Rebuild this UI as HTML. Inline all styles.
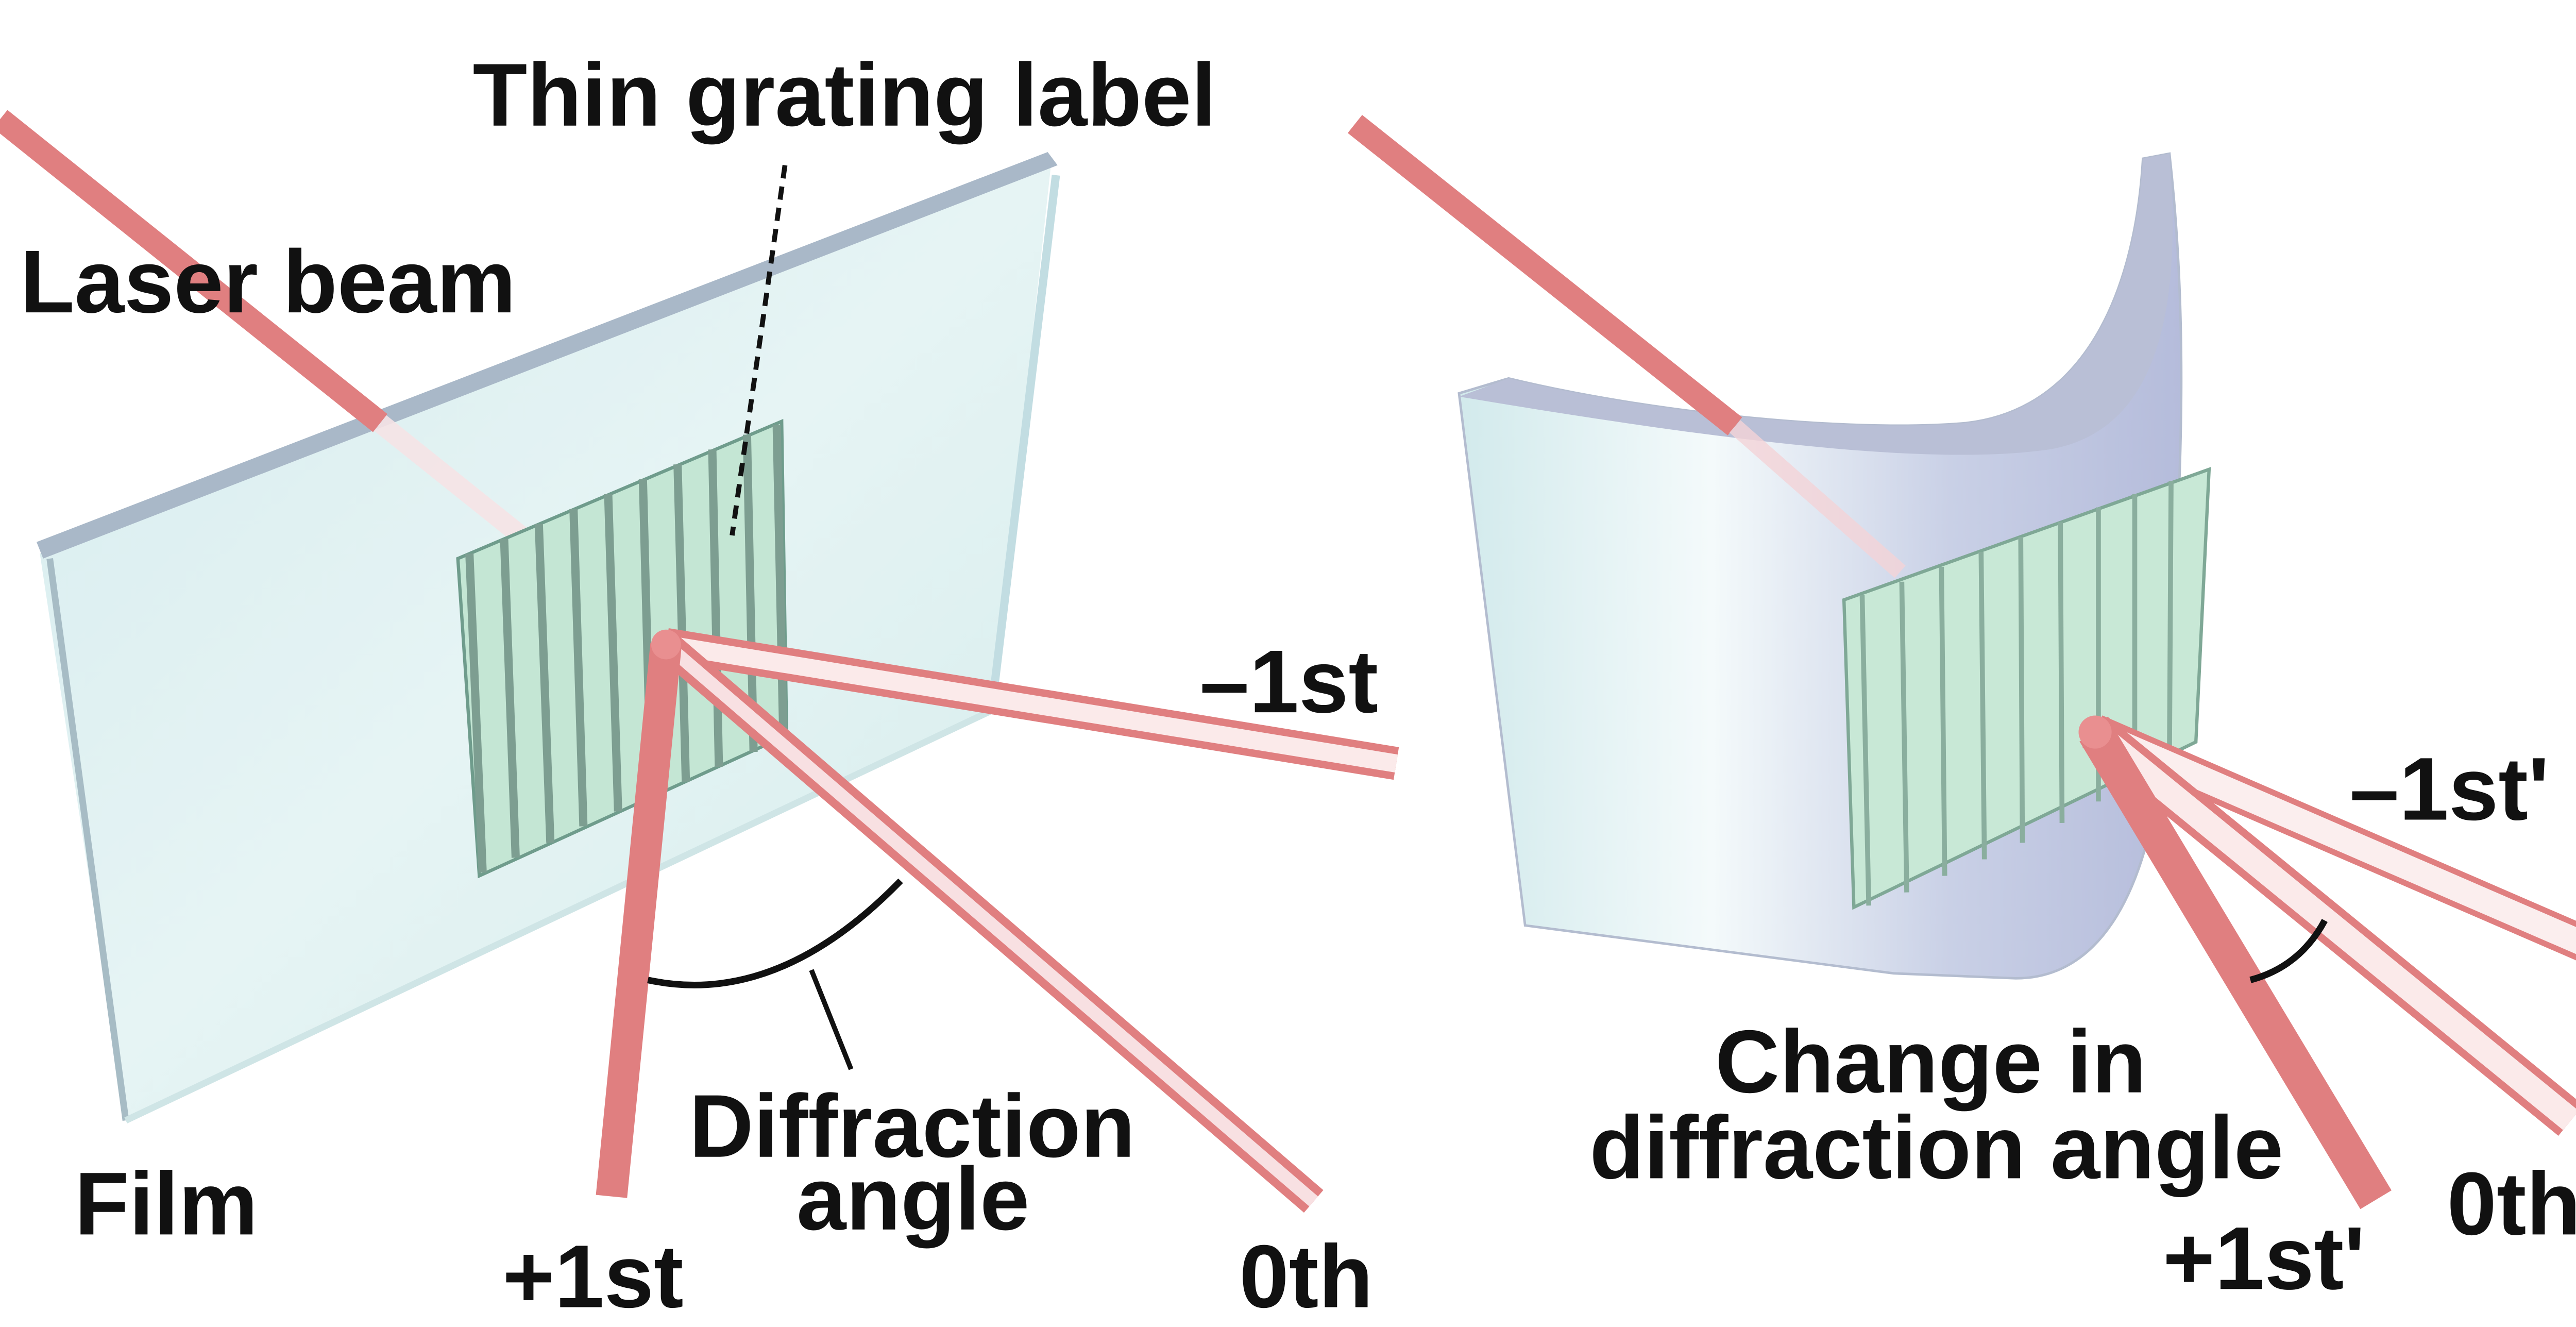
<!DOCTYPE html>
<html><head><meta charset="utf-8"><style>
html,body{margin:0;padding:0;background:#fff;}
svg{display:block;}
text{font-family:"Liberation Sans",Arial,sans-serif;font-weight:bold;fill:#111;}
</style></head><body>
<svg width="5029" height="2575" viewBox="0 0 1568 803" xmlns="http://www.w3.org/2000/svg">
<defs>
<linearGradient id="film" x1="0" y1="0" x2="1" y2="1">
<stop offset="0" stop-color="#d6ecef"/><stop offset="0.5" stop-color="#e6f4f4"/><stop offset="1" stop-color="#d4ecec"/>
</linearGradient>
<linearGradient id="curv" x1="0" y1="0" x2="1" y2="0">
<stop offset="0" stop-color="#d2eaec"/><stop offset="0.35" stop-color="#f4fafb"/><stop offset="0.68" stop-color="#c9d0e6"/><stop offset="1" stop-color="#b5bcdb"/>
</linearGradient>
</defs>
<!-- LEFT FILM -->
<polygon points="24,335 636,100 600,430 76,678" fill="url(#film)"/>
<line x1="30" y1="338" x2="76" y2="678" stroke="#a7bcc5" stroke-width="4"/>
<line x1="76" y1="678" x2="600" y2="430" stroke="#cfe5e6" stroke-width="4"/>
<line x1="639" y1="106" x2="600" y2="430" stroke="#c2dde2" stroke-width="5"/>
<polygon points="22,328 634,92 640,100 26,338" fill="#a9b8c8"/>
<!-- laser beam incoming -->
<line x1="0" y1="72" x2="230" y2="256" stroke="#e07f80" stroke-width="14"/>
<line x1="230" y1="256" x2="400" y2="392" stroke="#f6e4e6" stroke-width="12" opacity="0.9"/>
<!-- grating -->
<polygon points="277,338 473,255 476,445 290,530" fill="#c4e6d4" stroke="#6f9c8c" stroke-width="2"/>
<g stroke="#7d9e91" stroke-width="5">
<line x1="284" y1="335" x2="292" y2="528"/>
<line x1="305" y1="326" x2="312" y2="519"/>
<line x1="326" y1="317" x2="333" y2="510"/>
<line x1="347" y1="308" x2="353" y2="500"/>
<line x1="368" y1="299" x2="374" y2="491"/>
<line x1="389" y1="290" x2="394" y2="482"/>
<line x1="410" y1="281" x2="415" y2="473"/>
<line x1="431" y1="272" x2="435" y2="464"/>
<line x1="452" y1="263" x2="456" y2="455"/>
<line x1="470" y1="257" x2="474" y2="447"/>
</g>
<!-- dashed leader -->
<line x1="475" y1="100" x2="443" y2="324" stroke="#111" stroke-width="3" stroke-dasharray="8,5"/>
<!-- diffracted beams left -->
<line x1="403" y1="390" x2="845" y2="462" stroke="#e07f80" stroke-width="20"/>
<line x1="403" y1="390" x2="845" y2="462" stroke="#fbeaea" stroke-width="11"/>
<line x1="403" y1="390" x2="795" y2="727" stroke="#e07f80" stroke-width="18"/>
<line x1="403" y1="390" x2="795" y2="727" stroke="#f8e0e2" stroke-width="8"/>
<line x1="403" y1="390" x2="370" y2="724" stroke="#e07f80" stroke-width="19"/>
<circle cx="403" cy="390" r="9" fill="#e98f90"/>
<path d="M392,593 Q470,610 545,533" fill="none" stroke="#111" stroke-width="4"/>
<line x1="491" y1="587" x2="515" y2="647" stroke="#111" stroke-width="3"/>
<!-- RIGHT CURVED FILM -->
<path d="M883,238 L913,229 C1000,250 1120,262 1190,256 C1260,248 1292,180 1297,96 L1313,93 C1325,200 1320,300 1312,420 C1305,560 1260,592 1220,592 L1146,589 L923,560 Z" fill="url(#curv)" stroke="#b3bccf" stroke-width="1.5"/>
<path d="M913,229 C1000,250 1120,262 1190,256 C1260,248 1292,180 1297,96 L1313,93 C1322,200 1300,262 1240,272 C1170,282 1050,268 883,240 Z" fill="#b9bfd6"/>
<line x1="820" y1="75" x2="1050" y2="258" stroke="#e07f80" stroke-width="14"/>
<line x1="1050" y1="258" x2="1150" y2="346" stroke="#f4d4d8" stroke-width="10" opacity="0.8"/>
<!-- right grating -->
<polygon points="1116,363 1337,284 1329,449 1122,549" fill="#c8e8d6" stroke="#7fa896" stroke-width="2"/>
<g stroke="#8aae9e" stroke-width="3">
<line x1="1127" y1="360" x2="1131" y2="548"/>
<line x1="1151" y1="352" x2="1154" y2="540"/>
<line x1="1175" y1="343" x2="1177" y2="530"/>
<line x1="1199" y1="334" x2="1201" y2="520"/>
<line x1="1223" y1="325" x2="1224" y2="510"/>
<line x1="1247" y1="316" x2="1248" y2="498"/>
<line x1="1270" y1="307" x2="1270" y2="485"/>
<line x1="1292" y1="299" x2="1292" y2="472"/>
<line x1="1314" y1="291" x2="1313" y2="460"/>
</g>
<!-- right beams -->
<line x1="1268" y1="443" x2="1568" y2="573" stroke="#e07f80" stroke-width="22"/>
<line x1="1268" y1="443" x2="1568" y2="573" stroke="#fbeeee" stroke-width="15"/>
<line x1="1268" y1="443" x2="1556" y2="678" stroke="#e07f80" stroke-width="24"/>
<line x1="1268" y1="443" x2="1556" y2="678" stroke="#fbeaea" stroke-width="15"/>
<line x1="1268" y1="443" x2="1438" y2="726" stroke="#e07f80" stroke-width="22"/>
<circle cx="1268" cy="443" r="10" fill="#e98f90"/>
<path d="M1362,593 Q1392,585 1407,557" fill="none" stroke="#111" stroke-width="4"/>
<!-- labels -->
<text x="286" y="76" font-size="54">Thin grating label</text>
<text x="12" y="189" font-size="54">Laser beam</text>
<text x="726" y="431" font-size="54">–1st</text>
<text x="417" y="700" font-size="54">Diffraction</text>
<text x="482" y="744" font-size="54">angle</text>
<text x="45" y="747" font-size="54">Film</text>
<text x="304" y="791" font-size="54">+1st</text>
<text x="750" y="791" font-size="54">0th</text>
<text x="1038" y="661" font-size="54">Change in</text>
<text x="962" y="713" font-size="54">diffraction angle</text>
<text x="1422" y="496" font-size="54">–1st'</text>
<text x="1481" y="747" font-size="54">0th</text>
<text x="1309" y="780" font-size="54">+1st'</text>
</svg>
</body></html>
